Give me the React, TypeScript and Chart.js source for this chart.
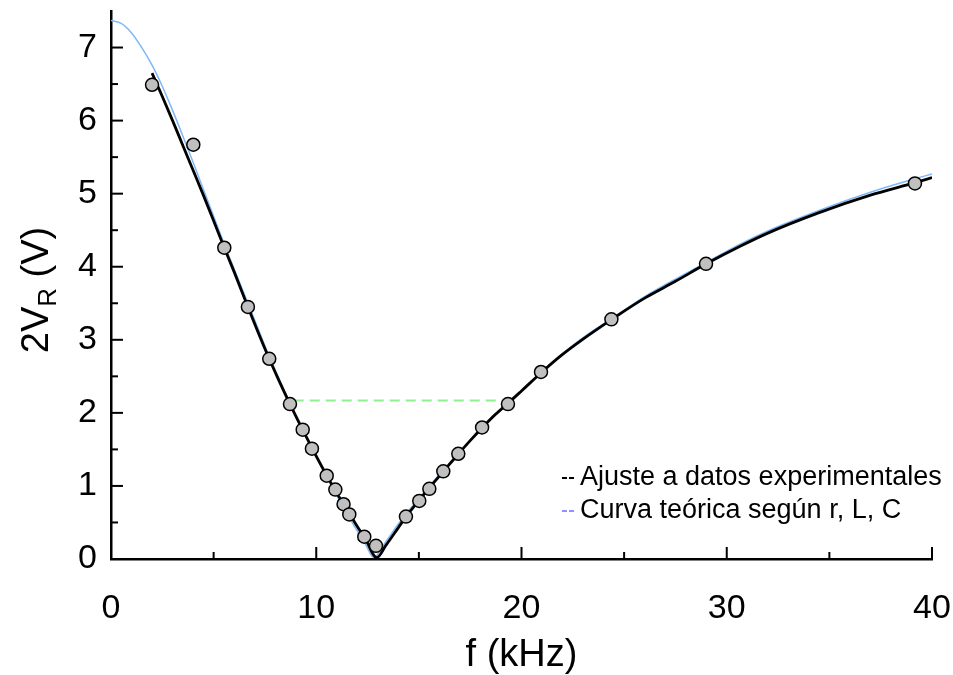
import React, { useEffect, useRef } from 'react';
import { Chart, registerables } from 'chart.js';
Chart.register(...registerables);

// Experimental points (f in kHz, 2V_R in V)
const expF = [2.0, 4.01, 5.52, 6.67, 7.71, 8.72, 9.34, 9.79, 10.51, 10.93, 11.33, 11.61, 12.34, 12.91, 14.37, 15.02, 15.51, 16.19, 16.92, 18.08, 19.34, 20.95, 24.38, 28.99, 39.17];
const expV = [6.49, 5.67, 4.26, 3.45, 2.74, 2.12, 1.77, 1.51, 1.14, 0.95, 0.75, 0.61, 0.305, 0.18, 0.58, 0.795, 0.96, 1.2, 1.44, 1.8, 2.12, 2.56, 3.28, 4.04, 5.14];

const fitF = [2.0, 2.5, 3.0, 3.5, 4.0, 4.5, 5.0, 5.52, 6.0, 6.67, 7.2, 7.71, 8.2, 8.72, 9.3, 9.79, 10.3, 10.9, 11.4, 11.9, 12.4, 12.95, 13.4, 14.0, 14.4, 15.0, 15.5, 16.2, 16.9, 17.5, 18.1, 18.7, 19.34, 20.0, 21.0, 22.0, 23.0, 24.4, 26.0, 27.5, 29.0, 30.65, 32.0, 34.5, 37.0, 39.17, 40.0];
const fitV = [6.65, 6.33, 6.0, 5.66, 5.32, 4.98, 4.63, 4.26, 3.93, 3.45, 3.08, 2.74, 2.43, 2.12, 1.79, 1.52, 1.25, 0.95, 0.72, 0.49, 0.27, 0.02, 0.19, 0.43, 0.59, 0.8, 0.97, 1.2, 1.43, 1.62, 1.8, 1.97, 2.13, 2.3, 2.56, 2.8, 3.01, 3.28, 3.57, 3.8, 4.04, 4.28, 4.46, 4.74, 4.98, 5.15, 5.22];

// Theoretical curve from r, L, C (blue curve)
const theoF = [0, 0.5, 1.0, 1.5, 2.0, 2.5, 3.0, 3.5, 4.0, 4.5, 5.0, 5.5, 6.0, 6.67, 7.2, 7.7, 8.2, 8.7, 9.3, 9.8, 10.3, 10.9, 11.4, 11.9, 12.4, 12.8, 13.3, 14.0, 14.5, 15.0, 16.2, 17.0, 18.0, 19.3, 20.0, 21.0, 22.0, 23.0, 24.4, 26.0, 27.5, 29.0, 30.65, 32.0, 34.5, 37.0, 39.0, 40.0];
const theoV = [7.37, 7.33, 7.2, 7.0, 6.76, 6.47, 6.14, 5.79, 5.43, 5.06, 4.69, 4.32, 3.97, 3.5, 3.13, 2.78, 2.46, 2.14, 1.78, 1.5, 1.23, 0.92, 0.67, 0.43, 0.2, 0.02, 0.2, 0.48, 0.66, 0.83, 1.22, 1.46, 1.79, 2.14, 2.31, 2.57, 2.81, 3.03, 3.29, 3.59, 3.83, 4.06, 4.31, 4.49, 4.77, 5.02, 5.19, 5.27];

// Green dashed level line
const levelF = [8.9, 19.45];
const levelV = [2.17, 2.17];

const xTicks = [0, 10, 20, 30, 40];
const yTicks = [0, 1, 2, 3, 4, 5, 6, 7];
const xMinor = [5, 15, 25, 35];
const yMinor = [0.5, 1.5, 2.5, 3.5, 4.5, 5.5, 6.5];

const legendLabels = ['Ajuste a datos experimentales', 'Curva teórica según r, L, C'];

const FONT = '"Liberation Sans", Arial, sans-serif';

const toXY = (xs: number[], ys: number[]) => xs.map((x, i) => ({ x, y: ys[i] }));

const decorPlugin = {
  id: 'decor',
  afterDraw(chart: any) {
    const ctx = chart.ctx;
    const xs = chart.scales.x;
    const ys = chart.scales.y;
    const area = chart.chartArea;
    ctx.save();
    ctx.strokeStyle = '#000';
    ctx.lineWidth = 2;
    // inward ticks
    xTicks.forEach((v) => {
      const px = xs.getPixelForValue(v);
      ctx.beginPath(); ctx.moveTo(px, area.bottom); ctx.lineTo(px, area.bottom - 12); ctx.stroke();
    });
    xMinor.forEach((v) => {
      const px = xs.getPixelForValue(v);
      ctx.beginPath(); ctx.moveTo(px, area.bottom); ctx.lineTo(px, area.bottom - 7); ctx.stroke();
    });
    yTicks.forEach((v) => {
      const py = ys.getPixelForValue(v);
      ctx.beginPath(); ctx.moveTo(area.left, py); ctx.lineTo(area.left + 12, py); ctx.stroke();
    });
    yMinor.forEach((v) => {
      const py = ys.getPixelForValue(v);
      ctx.beginPath(); ctx.moveTo(area.left, py); ctx.lineTo(area.left + 7, py); ctx.stroke();
    });

    // y-axis title with subscript: 2V_R (V)
    const big = '38px ' + FONT;
    const small = '26px ' + FONT;
    ctx.fillStyle = '#000';
    ctx.font = big;
    const w1 = ctx.measureText('2V').width;
    const w3 = ctx.measureText(' (V)').width;
    ctx.font = small;
    const w2 = ctx.measureText('R').width;
    const total = w1 + w2 + w3;
    ctx.translate(38, 290);
    ctx.rotate(-Math.PI / 2);
    ctx.textBaseline = 'middle';
    ctx.textAlign = 'left';
    let cx = -total / 2;
    ctx.font = big;
    ctx.fillText('2V', cx, 0);
    cx += w1;
    ctx.font = small;
    ctx.fillText('R', cx, 11);
    cx += w2;
    ctx.font = big;
    ctx.fillText(' (V)', cx, 0);
    ctx.restore();

    // legend
    ctx.save();
    ctx.font = '27px ' + FONT;
    ctx.textBaseline = 'middle';
    ctx.textAlign = 'left';
    const lx = 580;
    const rows = [478, 511];
    const colors = ['#000000', '#9090ff'];
    rows.forEach((y, i) => {
      ctx.strokeStyle = colors[i];
      ctx.lineWidth = 1.8;
      ctx.setLineDash([5, 2]);
      ctx.beginPath(); ctx.moveTo(lx - 18, y); ctx.lineTo(lx - 6, y); ctx.stroke();
      ctx.setLineDash([]);
      ctx.fillStyle = '#000';
      ctx.fillText(legendLabels[i], lx, y);
    });
    ctx.restore();
  },
};

export default function App() {
  const ref = useRef<HTMLCanvasElement>(null);
  useEffect(() => {
    if (!ref.current) return;
    const chart = new Chart(ref.current, {
      type: 'scatter',
      data: {
        datasets: [
          {
            label: 'exp',
            data: toXY(expF, expV),
            showLine: false,
            pointRadius: 6.5,
            pointBackgroundColor: '#c0c0c0',
            pointBorderColor: '#000',
            pointBorderWidth: 1.5,
            order: 0,
          },
          {
            label: legendLabels[0],
            data: toXY(fitF, fitV),
            showLine: true,
            borderColor: '#000',
            borderWidth: 2.8,
            pointRadius: 0,
            cubicInterpolationMode: 'monotone',
            order: 1,
          },
          {
            label: 'level',
            data: toXY(levelF, levelV),
            showLine: true,
            borderColor: '#8ff08f',
            borderWidth: 2,
            borderDash: [10, 6],
            pointRadius: 0,
            order: 2,
          },
          {
            label: legendLabels[1],
            data: toXY(theoF, theoV),
            showLine: true,
            borderColor: '#7fb8f8',
            borderWidth: 1.5,
            pointRadius: 0,
            cubicInterpolationMode: 'monotone',
            order: 3,
          },
        ],
      },
      options: {
        animation: false,
        responsive: false,
        layout: { padding: { top: 11, right: 21, left: 0, bottom: 0 } },
        plugins: { legend: { display: false }, tooltip: { enabled: false } },
        scales: {
          x: {
            type: 'linear',
            min: 0,
            max: 40,
            afterBuildTicks: (s: any) => { s.ticks = xTicks.map((v) => ({ value: v })); },
            afterFit: (s: any) => { s.height = 116; s.paddingLeft = 0; s.paddingRight = 0; s.paddingTop = 0; s.paddingBottom = 0; },
            grid: { display: false, drawTicks: false },
            border: { display: true, color: '#000', width: 2.5 },
            ticks: { color: '#000', font: { family: FONT, size: 34 }, padding: 29, maxRotation: 0 },
            title: { display: true, text: 'f (kHz)', color: '#000', font: { family: FONT, size: 38, lineHeight: 1 }, padding: { top: 0, bottom: 0 } },
          },
          y: {
            type: 'linear',
            min: 0,
            max: 7.5,
            afterBuildTicks: (s: any) => { s.ticks = yTicks.map((v) => ({ value: v })); },
            afterFit: (s: any) => { s.width = 111; s.paddingLeft = 0; s.paddingRight = 0; s.paddingTop = 0; s.paddingBottom = 0; },
            grid: { display: false, drawTicks: false },
            border: { display: true, color: '#000', width: 2.5 },
            ticks: { color: '#000', font: { family: FONT, size: 34 }, padding: 14 },
          },
        },
      },
      plugins: [decorPlugin],
    });
    return () => chart.destroy();
  }, []);
  return (
    <div style={{ position: 'fixed', left: 0, top: 0, width: 953, height: 675, background: '#fff' }}>
      <canvas ref={ref} width={953} height={675} style={{ display: 'block' }} />
    </div>
  );
}
